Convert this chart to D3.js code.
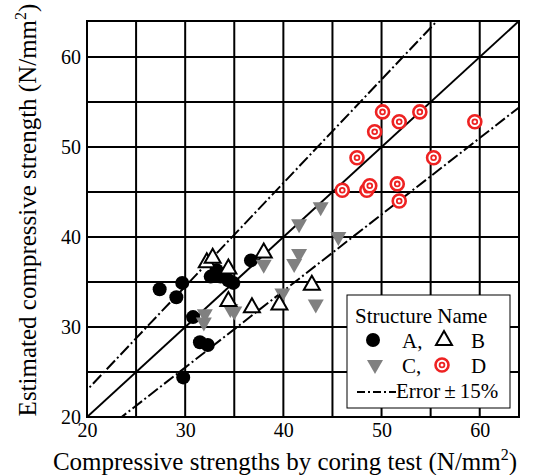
<!DOCTYPE html>
<html>
<head>
<meta charset="utf-8">
<script src="https://cdn.jsdelivr.net/npm/d3@7"></script>
<style>
  body { margin: 0; background: #fff; }
</style>
</head>
<body>
<div id="chart"></div>
<script>
// structure A : coring test vs estimated strength
var dataA = [
  [27.4, 34.2], [29.7, 34.9], [29.1, 33.3], [30.8, 31.1], [31.5, 28.3],
  [32.3, 28.0], [29.8, 24.4], [32.6, 35.6], [33.2, 36.3], [33.6, 35.6],
  [34.4, 35.2], [34.9, 34.9], [36.7, 37.4]
];
// structure B
var dataB = [
  [32.2, 37.3], [32.8, 37.8], [34.4, 36.6], [38.0, 38.4],
  [34.4, 33.0], [36.8, 32.3], [39.6, 32.6], [42.9, 34.8]
];
// structure C
var dataC = [
  [31.9, 30.4], [32.0, 31.3], [34.6, 31.9], [35.0, 31.6], [38.0, 36.8],
  [39.9, 33.6], [41.1, 36.9], [41.6, 38.0], [41.6, 41.3], [43.8, 43.2],
  [45.6, 39.9], [43.3, 32.4]
];
// structure D
var dataD = [
  [50.1, 53.9], [53.9, 53.9], [51.8, 52.8], [59.5, 52.8], [49.3, 51.7],
  [47.5, 48.8], [55.3, 48.8], [46.0, 45.2], [48.5, 45.2], [48.8, 45.7],
  [51.6, 45.9], [51.8, 44.0]
];

var tickValues = [20, 30, 40, 50, 60];
var gridValues = [25, 30, 35, 40, 45, 50, 55, 60];
var errorRatios = [1.15, 0.85];

var width = 535, height = 475;
var margin = {top: 21, right: 16, bottom: 58, left: 87};
var w = width - margin.left - margin.right,
    h = height - margin.top - margin.bottom;
var serif = "Liberation Serif";

var svg = d3.select("#chart").append("svg")
    .attr("width", width)
    .attr("height", height);

var g = svg.append("g")
    .attr("transform", "translate(" + margin.left + "," + margin.top + ")");

var x = d3.scaleLinear().domain([20, 64]).range([0, w]);
var y = d3.scaleLinear().domain([20, 64]).range([h, 0]);

g.append("clipPath").attr("id", "clip")
  .append("rect").attr("width", w).attr("height", h);

// grid
g.selectAll(".vgrid").data(gridValues).enter().append("line")
    .attr("x1", d => x(d)).attr("x2", d => x(d))
    .attr("y1", 0).attr("y2", h)
    .attr("stroke", "#000").attr("stroke-width", 2);
g.selectAll(".hgrid").data(gridValues).enter().append("line")
    .attr("y1", d => y(d)).attr("y2", d => y(d))
    .attr("x1", 0).attr("x2", w)
    .attr("stroke", "#000").attr("stroke-width", 2);

// 1:1 line and +-15% lines
var lines = g.append("g").attr("clip-path", "url(#clip)");
lines.append("line")
    .attr("x1", x(20)).attr("y1", y(20))
    .attr("x2", x(64)).attr("y2", y(64))
    .attr("stroke", "#000").attr("stroke-width", 2);
lines.selectAll(".err").data(errorRatios).enter().append("line")
    .attr("x1", x(15)).attr("y1", d => y(15 * d))
    .attr("x2", x(70)).attr("y2", d => y(70 * d))
    .attr("stroke", "#000").attr("stroke-width", 2)
    .attr("stroke-dasharray", "12,3,2,3");

// markers
function drawCircle(sel) {
  sel.append("circle").attr("r", 7).attr("fill", "#000");
}
function drawUp(sel) {
  sel.append("path").attr("d", "M0,-8L8,6L-8,6Z")
    .attr("fill", "#fff").attr("stroke", "#000").attr("stroke-width", 2);
}
function drawDown(sel) {
  sel.append("path").attr("d", "M-8,-6L8,-6L0,8Z")
    .attr("fill", "#808080");
}
function drawTarget(sel) {
  sel.append("circle").attr("r", 6.5).attr("fill", "#fff")
    .attr("stroke", "#ee2222").attr("stroke-width", 2.6);
  sel.append("circle").attr("r", 2.4).attr("fill", "#fff")
    .attr("stroke", "#ee2222").attr("stroke-width", 1.8);
}

var pts = g.append("g");
function plot(data, fn) {
  pts.append("g").selectAll("g").data(data).enter().append("g")
    .attr("transform", d => "translate(" + x(d[0]) + "," + y(d[1]) + ")")
    .each(function() { fn(d3.select(this)); });
}
plot(dataA, drawCircle);
plot(dataC, drawDown);
plot(dataB, drawUp);
plot(dataD, drawTarget);

// frame
g.append("rect").attr("width", w).attr("height", h)
  .attr("fill", "none").attr("stroke", "#000").attr("stroke-width", 2);

// axes labels
var xAxis = g.append("g").attr("transform", "translate(0," + h + ")")
  .call(d3.axisBottom(x).tickValues(tickValues).tickSize(0).tickPadding(6));
var yAxis = g.append("g")
  .call(d3.axisLeft(y).tickValues(tickValues).tickSize(0).tickPadding(6));
[xAxis, yAxis].forEach(function(a) {
  a.attr("font-family", serif).attr("font-size", 20);
  a.select(".domain").remove();
  a.selectAll("text").attr("fill", "#000");
});

// axis titles
var xt = svg.append("text")
  .attr("x", 285).attr("y", 470)
  .attr("font-family", serif).attr("font-size", 25)
  .attr("text-anchor", "middle");
xt.append("tspan").text("Compressive strengths by coring test (N/mm");
xt.append("tspan").text("2").attr("dy", -10).attr("font-size", 16);
xt.append("tspan").text(")").attr("dy", 10);

var yt = svg.append("text")
  .attr("transform", "translate(36,210) rotate(-90)")
  .attr("font-family", serif).attr("font-size", 25)
  .attr("text-anchor", "middle");
yt.append("tspan").text("Estimated compressive strength (N/mm");
yt.append("tspan").text("2").attr("dy", -10).attr("font-size", 16);
yt.append("tspan").text(")").attr("dy", 10);

// legend
var lg = svg.append("g").attr("transform", "translate(347,295)")
  .attr("font-family", serif).attr("font-size", 21);
lg.append("rect").attr("width", 163).attr("height", 113)
  .attr("fill", "#fff").attr("stroke", "#000").attr("stroke-width", 1);
lg.append("text").attr("x", 8).attr("y", 28).text("Structure Name");
drawCircle(lg.append("g").attr("transform", "translate(26,45)"));
drawUp(lg.append("g").attr("transform", "translate(97,44)"));
drawDown(lg.append("g").attr("transform", "translate(28,71)"));
drawTarget(lg.append("g").attr("transform", "translate(95,70)"));
lg.append("text").attr("x", 55).attr("y", 53).text("A,");
lg.append("text").attr("x", 124).attr("y", 53).text("B");
lg.append("text").attr("x", 55).attr("y", 78).text("C,");
lg.append("text").attr("x", 124).attr("y", 78).text("D");
lg.append("line").attr("x1", 10).attr("x2", 49).attr("y1", 97).attr("y2", 97)
  .attr("stroke", "#000").attr("stroke-width", 2).attr("stroke-dasharray", "8,3,2,3");
var et = lg.append("text").attr("x", 49).attr("y", 103);
et.append("tspan").text("Error");
et.append("tspan").attr("dx", 4).text("\u00b1");
et.append("tspan").attr("dx", 4).text("15%");
</script>
</body>
</html>
